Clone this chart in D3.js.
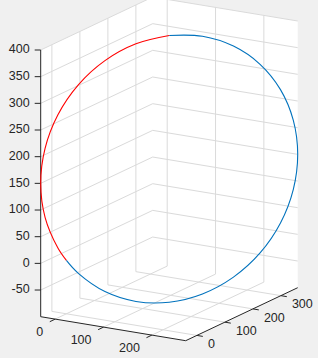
<!DOCTYPE html>
<html>
<head>
<meta charset="utf-8">
<script src="https://cdn.jsdelivr.net/npm/d3@7"></script>
<style>
  body { margin: 0; background: #f0f0f0; }
  svg { display: block; }
</style>
</head>
<body>
<svg id="chart" width="318" height="358"></svg>
<script>
//=================================
//        Chart data
//=================================
var xLimits = [-30, 270];
var yLimits = [-40, 360];
var zLimits = [-100, 400];

var xTicks = [0, 100, 200];
var yTicks = [0, 100, 200, 300];
var zTicks = [-50, 0, 50, 100, 150, 200, 250, 300, 350, 400];

//Red arc, from the top of the circle down to the origin (x, y, z)
var redArc = [
  [120, 160, 400], [81.2, 108.2, 391.5], [45, 60, 366.5], [13.9, 18.6, 326.8],
  [-9.9, -13.2, 275], [-24.9, -33.2, 214.7], [-30, -40, 150], [-24.9, -33.2, 85.3],
  [-9.9, -13.2, 25], [0, 0, 0]
];

//Blue arc, the rest of the circle (x, y, z)
var blueArc = [
  [0, 0, 0], [13.9, 18.6, -26.8], [45, 60, -66.5], [81.2, 108.2, -91.5],
  [120, 160, -100], [158.8, 211.8, -91.5], [195, 260, -66.5], [226.1, 301.4, -26.8],
  [249.9, 333.2, 25], [264.9, 353.2, 85.3], [270, 360, 150], [264.9, 353.2, 214.7],
  [249.9, 333.2, 275], [226.1, 301.4, 326.8], [195, 260, 366.5], [158.8, 211.8, 391.5],
  [120, 160, 400]
];

//=================================
//   Projection of the 3D box
//=================================
var svg = d3.select("#chart");

var corner = [40.7, 316.7];//Screen point of (xmin, ymin, zmin)
var ex = [145, 24];//Screen vector of the whole x range
var ey = [112, -53];//Screen vector of the whole y range
var ez = [0, -266.7];//Screen vector of the whole z range

var sx = d3.scaleLinear().domain(xLimits).range([0, 1]);
var sy = d3.scaleLinear().domain(yLimits).range([0, 1]);
var sz = d3.scaleLinear().domain(zLimits).range([0, 1]);

function project(p) {
  var a = sx(p[0]), b = sy(p[1]), c = sz(p[2]);
  return [corner[0] + a * ex[0] + b * ey[0] + c * ez[0],
          corner[1] + a * ex[1] + b * ey[1] + c * ez[1]];
}

var x0 = xLimits[0], x1 = xLimits[1];
var y0 = yLimits[0], y1 = yLimits[1];
var z0 = zLimits[0], z1 = zLimits[1];

//White background of the axes
var hull = [[x0, y0, z1], [x0, y1, z1], [x1, y1, z1], [x1, y1, z0], [x1, y0, z0], [x0, y0, z0]];
svg.append("polygon")
  .attr("points", hull.map(project).map(function(p) { return p.join(","); }).join(" "))
  .attr("fill", "#ffffff");

//Grid lines on the floor and the two back walls
var gridLines = [];
xTicks.forEach(function(x) {
  gridLines.push([[x, y0, z0], [x, y1, z0]]);//floor
  gridLines.push([[x, y1, z0], [x, y1, z1]]);//back wall y = ymax
});
yTicks.forEach(function(y) {
  gridLines.push([[x0, y, z0], [x1, y, z0]]);//floor
  gridLines.push([[x0, y, z0], [x0, y, z1]]);//back wall x = xmin
});
zTicks.forEach(function(z) {
  gridLines.push([[x0, y0, z], [x0, y1, z]]);
  gridLines.push([[x0, y1, z], [x1, y1, z]]);
});

svg.append("g").selectAll("line")
  .data(gridLines)
  .enter().append("line")
  .attr("x1", function(d) { return project(d[0])[0]; })
  .attr("y1", function(d) { return project(d[0])[1]; })
  .attr("x2", function(d) { return project(d[1])[0]; })
  .attr("y2", function(d) { return project(d[1])[1]; })
  .attr("stroke", "#dadada")
  .attr("stroke-width", 1);

//=================================
//       Axes and tick labels
//=================================
var axisColor = "#262626";
var fontFamily = "'Liberation Sans', Arial, sans-serif";
var axisLines = [
  [[x0, y0, z0], [x0, y0, z1]],
  [[x0, y0, z0], [x1, y0, z0]],
  [[x1, y0, z0], [x1, y1, z0]]
];
svg.append("g").selectAll("line")
  .data(axisLines)
  .enter().append("line")
  .attr("x1", function(d) { return project(d[0])[0]; })
  .attr("y1", function(d) { return project(d[0])[1]; })
  .attr("x2", function(d) { return project(d[1])[0]; })
  .attr("y2", function(d) { return project(d[1])[1]; })
  .attr("stroke", axisColor)
  .attr("stroke-width", 1);

var ticks = svg.append("g").attr("stroke", axisColor).attr("stroke-width", 1);
var labels = svg.append("g")
  .attr("fill", axisColor)
  .attr("font-family", fontFamily)
  .attr("font-size", "12.5px");

//z ticks point left
zTicks.forEach(function(z) {
  var p = project([x0, y0, z]);
  ticks.append("line").attr("x1", p[0]).attr("y1", p[1]).attr("x2", p[0] - 6).attr("y2", p[1]);
  labels.append("text")
    .attr("x", p[0] - 11).attr("y", p[1])
    .attr("text-anchor", "end")
    .attr("dominant-baseline", "middle")
    .text(z);
});

//x ticks point out along -y
xTicks.forEach(function(x) {
  var p = project([x, y0, z0]);
  ticks.append("line").attr("x1", p[0]).attr("y1", p[1]).attr("x2", p[0] - 5.4).attr("y2", p[1] + 2.6);
  labels.append("text")
    .attr("x", p[0] - 12).attr("y", p[1] + 13.5)
    .attr("text-anchor", "end")
    .attr("dominant-baseline", "middle")
    .text(x);
});

//y ticks point out along +x
yTicks.forEach(function(y) {
  var p = project([x1, y, z0]);
  ticks.append("line").attr("x1", p[0]).attr("y1", p[1]).attr("x2", p[0] + 5.9).attr("y2", p[1] + 1);
  labels.append("text")
    .attr("x", p[0] + 11).attr("y", p[1] + 9.5)
    .attr("text-anchor", "start")
    .attr("dominant-baseline", "middle")
    .text(y);
});

//=================================
//          The circle
//=================================
var line = d3.line()
  .x(function(d) { return project(d)[0]; })
  .y(function(d) { return project(d)[1]; })
  .curve(d3.curveCatmullRom.alpha(0.5));

svg.append("path")
  .attr("d", line(blueArc))
  .attr("fill", "none")
  .attr("stroke", "#0072bd")
  .attr("stroke-width", 1.1);

svg.append("path")
  .attr("d", line(redArc))
  .attr("fill", "none")
  .attr("stroke", "#ff0000")
  .attr("stroke-width", 1.1);
</script>
</body>
</html>
